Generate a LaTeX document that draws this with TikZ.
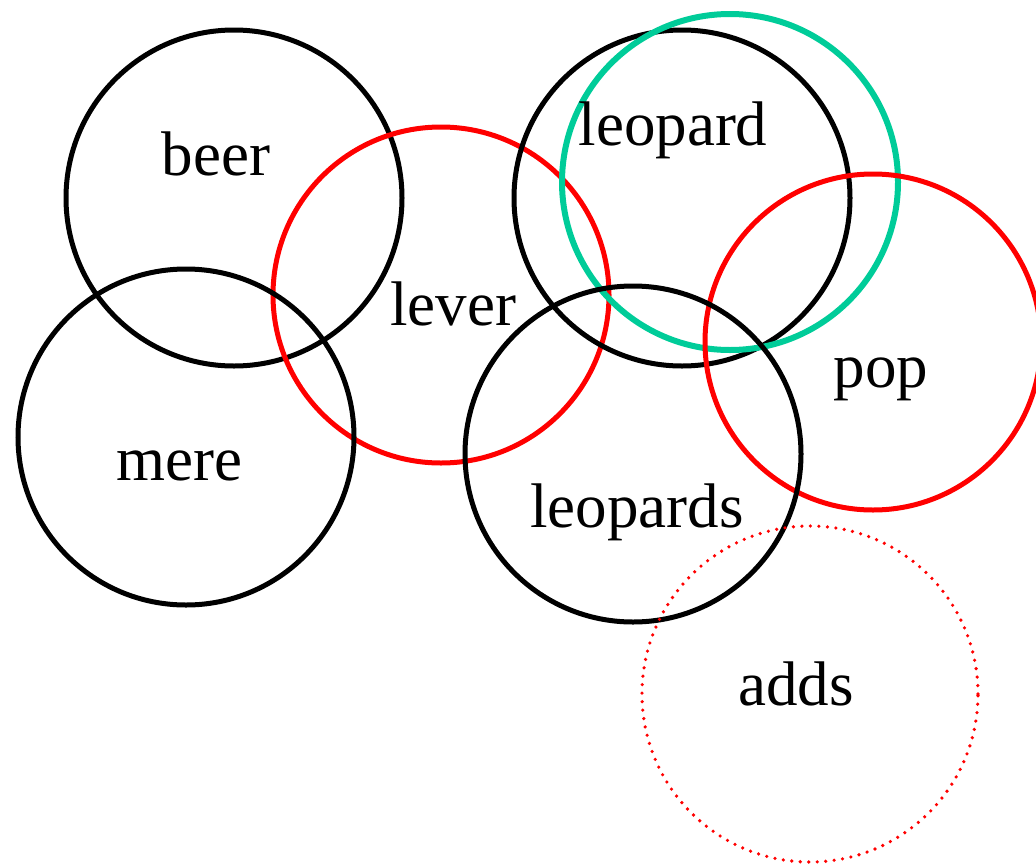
\documentclass[tikz,border=0pt]{standalone}
\usepackage{fontspec}
\setmainfont{Liberation Serif}
\definecolor{mint}{RGB}{0,204,153}
\begin{document}
\begin{tikzpicture}[x=1pt,y=-1pt,
  ring/.style={circle,draw,line width=5pt,minimum size=336pt,inner sep=0pt},
  dotring/.style={ring,line width=3.6pt,line cap=round,dash pattern=on 0pt off 8.5pt},
  label/.style={anchor=base,inner sep=0pt,font=\fontsize{63}{70}\selectfont}]
\useasboundingbox (0,0) rectangle (1036,865);
% circles
\node[ring] (beerc) at (234,198) {};
\node[ring,red] (leverc) at (441,295) {};
\node[ring] (merec) at (186,437) {};
\node[ring] (leopardc) at (682,198) {};
\node[ring,mint,line width=6pt] (leopardg) at (730,182) {};
\node[ring,red] (popc) at (873,342) {};
\node[ring] (leopardsc) at (633,454) {};
\node[dotring,red] (addsc) at (810,694) {};
% words
\node[label] (beer) at (216,175) {beer};
\node[label] (lever) at (453,325) {lever};
\node[label] (mere) at (179,480) {mere};
\node[label] (leopard) at (673,145) {leopard};
\node[label] (pop) at (881,387) {pop};
\node[label] (leopards) at (637,527) {leopards};
\node[label] (adds) at (796,705) {adds};
\end{tikzpicture}
\end{document}
